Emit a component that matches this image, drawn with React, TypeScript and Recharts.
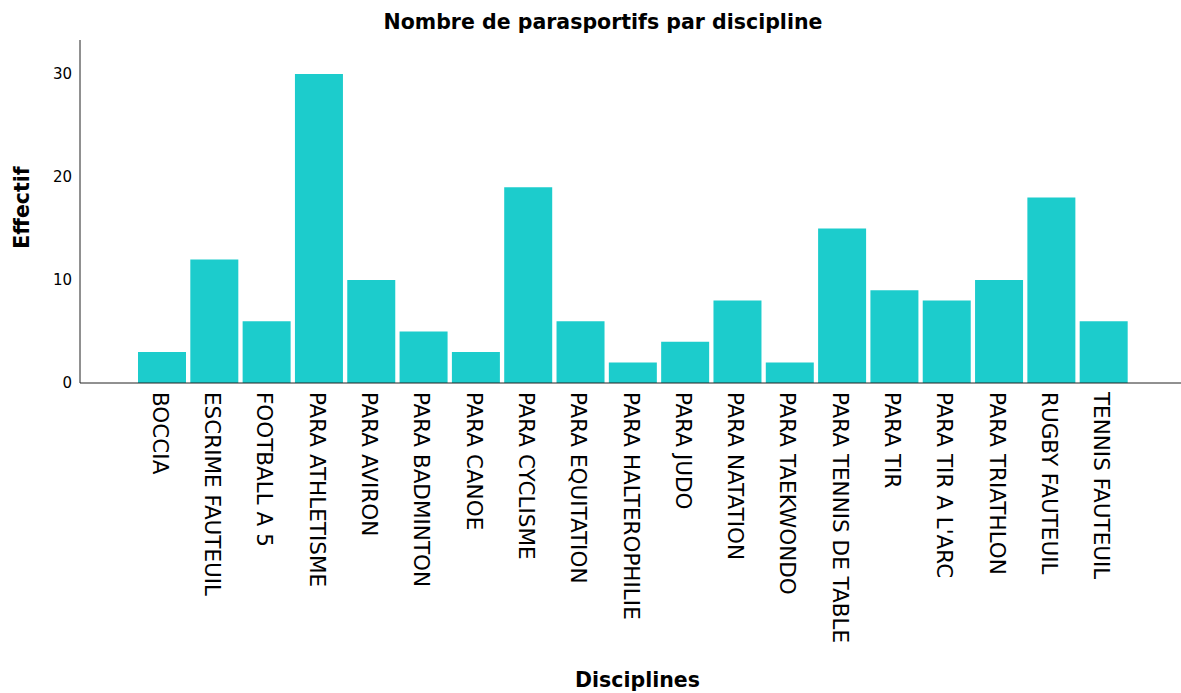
import { BarChart, Bar, XAxis, YAxis } from 'recharts'

// ─── Données ────────────────────────────────────────────────────────────────
const disciplines = [
  'BOCCIA',
  'ESCRIME FAUTEUIL',
  'FOOTBALL A 5',
  'PARA ATHLETISME',
  'PARA AVIRON',
  'PARA BADMINTON',
  'PARA CANOE',
  'PARA CYCLISME',
  'PARA EQUITATION',
  'PARA HALTEROPHILIE',
  'PARA JUDO',
  'PARA NATATION',
  'PARA TAEKWONDO',
  'PARA TENNIS DE TABLE',
  'PARA TIR',
  "PARA TIR A L'ARC",
  'PARA TRIATHLON',
  'RUGBY FAUTEUIL',
  'TENNIS FAUTEUIL',
]
const effectifs = [3, 12, 6, 30, 10, 5, 3, 19, 6, 2, 4, 8, 2, 15, 9, 8, 10, 18, 6]
const yTicks = [0, 10, 20, 30]

const FONT = '"DejaVu Sans", Verdana, sans-serif'
const BAR_COLOR = '#1ccccc'

const data = disciplines.map((name, i) => ({ name, value: effectifs[i] }))

// ─── Étiquettes verticales de l'axe X ───────────────────────────────────────
function RotatedTick({ x, y, payload }: any) {
  return (
    <text
      x={x - 2}
      y={y + 9}
      transform={`rotate(90, ${x - 2}, ${y + 9})`}
      textAnchor="start"
      dominantBaseline="central"
      fontFamily={FONT}
      fontSize={21.5}
      fill="#000"
    >
      {payload.value}
    </text>
  )
}

export default function App() {
  return (
    <div style={{ position: 'absolute', left: 0, top: 0, width: 1181, height: 693, background: '#fff' }}>
      <div
        style={{
          position: 'absolute',
          left: 0,
          top: 9,
          width: 1206,
          textAlign: 'center',
          fontFamily: FONT,
          fontWeight: 'bold',
          fontSize: 20.5,
          lineHeight: '26px',
          color: '#000',
        }}
      >
        Nombre de parasportifs par discipline
      </div>
      <BarChart
        width={1181}
        height={693}
        data={data}
        margin={{ top: 40, right: 0, left: 0, bottom: 0 }}
        barCategoryGap={2}
      >
        <XAxis
          dataKey="name"
          interval={0}
          height={310}
          tickLine={false}
          tickSize={0}
          tickMargin={0}
          tick={<RotatedTick />}
          axisLine={{ stroke: '#222', strokeWidth: 1 }}
          padding={{ left: 56, right: 51 }}
          label={{
            content: (p: any) => (
              <text
                x={p.viewBox.x + p.viewBox.width / 2 + 7}
                y={680}
                textAnchor="middle"
                dominantBaseline="central"
                fontFamily={FONT}
                fontWeight="bold"
                fontSize={20.5}
                fill="#000"
              >
                Disciplines
              </text>
            ),
          }}
        />
        <YAxis
          width={80}
          domain={[0, 33.3]}
          ticks={yTicks}
          tickLine={false}
          tickMargin={2}
          axisLine={{ stroke: '#222', strokeWidth: 1 }}
          tick={{ fontFamily: FONT, fontSize: 15, fill: '#000' }}
          label={{
            content: (p: any) => {
              const cy = p.viewBox.y + p.viewBox.height / 2 - 4
              return (
                <text
                  x={22}
                  y={cy}
                  transform={`rotate(-90, 22, ${cy})`}
                  textAnchor="middle"
                  dominantBaseline="central"
                  fontFamily={FONT}
                  fontWeight="bold"
                  fontSize={20.5}
                  fill="#000"
                >
                  Effectif
                </text>
              )
            },
          }}
        />
        <Bar dataKey="value" fill={BAR_COLOR} isAnimationActive={false} />
      </BarChart>
    </div>
  )
}
